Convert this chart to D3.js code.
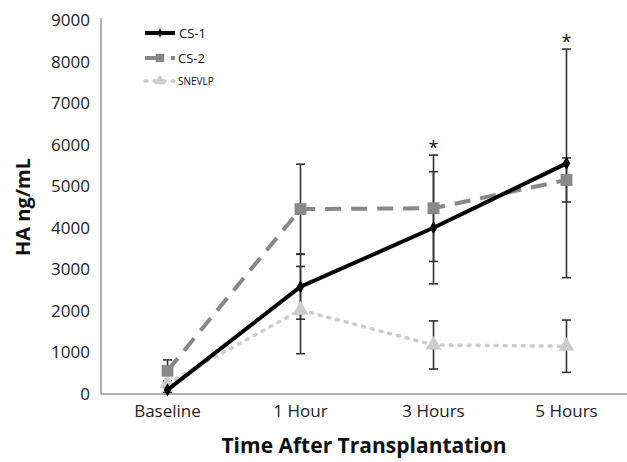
<!DOCTYPE html>
<html>
<head>
<meta charset="utf-8">
<script src="https://cdn.jsdelivr.net/npm/d3@7"></script>
<style>
  body { margin: 0; background: #fff; }
  svg text { font-family: "Open Sans", Lato, sans-serif; }
</style>
</head>
<body>
<svg id="chart" width="627" height="462"></svg>
<script>
// values
const categories = ['Baseline', '1 Hour', '3 Hours', '5 Hours'];
const yTicks = [0, 1000, 2000, 3000, 4000, 5000, 6000, 7000, 8000, 9000];
const cs1 = [100, 2580, 4000, 5550];
const cs1Err = [60, 780, 1350, 2750];
const cs2 = [560, 4450, 4470, 5150];
const cs2Err = [260, 1080, 1280, 530];
const snevlp = [260, 2020, 1180, 1150];
const snevlpErr = [60, 1050, 580, 630];
const significant = [false, false, true, true];

const svg = d3.select('#chart');

const x = d3.scaleBand().domain(categories).range([101, 633]);
const y = d3.scaleLinear().domain([0, 9000]).range([394, 20]);
const cx = c => x(c) + x.bandwidth() / 2;

// axes
svg.append('line')
    .attr('x1', 101).attr('x2', 101).attr('y1', 18).attr('y2', y(0))
    .attr('stroke', '#999').attr('stroke-width', 1.5);
svg.append('line')
    .attr('x1', 101).attr('x2', 627).attr('y1', y(0)).attr('y2', y(0))
    .attr('stroke', '#999').attr('stroke-width', 1.5);

svg.append('g').selectAll('text').data(yTicks).enter().append('text')
    .attr('x', 90).attr('y', d => y(d)).attr('dy', '0.35em')
    .attr('text-anchor', 'end').attr('font-size', 17).attr('fill', '#222')
    .text(d => d);

svg.append('g').selectAll('text').data(categories).enter().append('text')
    .attr('x', d => cx(d)).attr('y', 417)
    .attr('text-anchor', 'middle').attr('font-size', 17).attr('fill', '#222')
    .text(d => d);

svg.append('text')
    .attr('transform', 'translate(30,207) rotate(-90)')
    .attr('text-anchor', 'middle').attr('font-size', 20).attr('font-weight', 'bold')
    .attr('fill', '#111').text('HA ng/mL');

svg.append('text')
    .attr('x', 364).attr('y', 453)
    .attr('text-anchor', 'middle').attr('font-size', 21).attr('font-weight', 'bold')
    .attr('fill', '#111').text('Time After Transplantation');

const series = [
    { name: 'CS-1', vals: cs1, err: cs1Err, color: '#000', width: 4, dash: null, marker: 'diamond', msize: 50 },
    { name: 'CS-2', vals: cs2, err: cs2Err, color: '#888', width: 4, dash: '16,10', marker: 'square', msize: 140 },
    { name: 'SNEVLP', vals: snevlp, err: snevlpErr, color: '#ccc', width: 3.5, dash: '2,7', marker: 'triangle', msize: 110 }
];
const symbols = { diamond: d3.symbolDiamond, square: d3.symbolSquare, triangle: d3.symbolTriangle };

// error bars
const errG = svg.append('g');
series.forEach(s => {
    s.vals.forEach((v, i) => {
        const xc = cx(categories[i]);
        errG.append('line')
            .attr('x1', xc).attr('x2', xc)
            .attr('y1', y(v + s.err[i])).attr('y2', y(Math.max(0, v - s.err[i])))
            .attr('stroke', '#333').attr('stroke-width', 1.6);
        [v + s.err[i], Math.max(0, v - s.err[i])].forEach(e => {
            errG.append('line')
                .attr('x1', xc - 4.5).attr('x2', xc + 4.5)
                .attr('y1', y(e)).attr('y2', y(e))
                .attr('stroke', '#333').attr('stroke-width', 1.6);
        });
    });
});

const line = d3.line().x((d, i) => cx(categories[i])).y(d => y(d));

[series[2], series[1], series[0]].forEach(s => {
    svg.append('path').datum(s.vals)
        .attr('d', line)
        .attr('fill', 'none')
        .attr('stroke', s.color)
        .attr('stroke-width', s.width)
        .attr('stroke-dasharray', s.dash)
        .attr('stroke-linecap', s.dash === '2,7' ? 'round' : 'butt');
    svg.append('g').selectAll('path').data(s.vals).enter().append('path')
        .attr('transform', (d, i) => `translate(${cx(categories[i])},${y(d)})`)
        .attr('d', d3.symbol().type(symbols[s.marker]).size(s.msize))
        .attr('fill', s.color);
});

// significance markers
significant.forEach((sig, i) => {
    if (!sig) return;
    const top = d3.max(series, s => s.vals[i] + s.err[i]);
    svg.append('text')
        .attr('x', cx(categories[i])).attr('y', y(top) - 1)
        .attr('text-anchor', 'middle').attr('font-size', 18).attr('fill', '#111')
        .text('*');
});

// legend
const legend = svg.append('g');
const legY = [33, 58, 81];
series.forEach((s, i) => {
    const g = legend.append('g').attr('transform', `translate(0,${legY[i]})`);
    g.append('line')
        .attr('x1', 145).attr('x2', 175).attr('y1', 0).attr('y2', 0)
        .attr('stroke', s.color).attr('stroke-width', s.width)
        .attr('stroke-dasharray', s.dash)
        .attr('stroke-linecap', s.dash === '2,7' ? 'round' : 'butt');
    g.append('path')
        .attr('transform', 'translate(160,0)')
        .attr('d', d3.symbol().type(symbols[s.marker]).size(s.msize * 0.5))
        .attr('fill', s.color);
    g.append('text')
        .attr('x', i === 0 ? 179 : 178).attr('y', 0).attr('dy', '0.35em')
        .attr('font-size', i === 2 ? 10 : 13).attr('fill', '#111')
        .text(s.name);
});
</script>
</body>
</html>
